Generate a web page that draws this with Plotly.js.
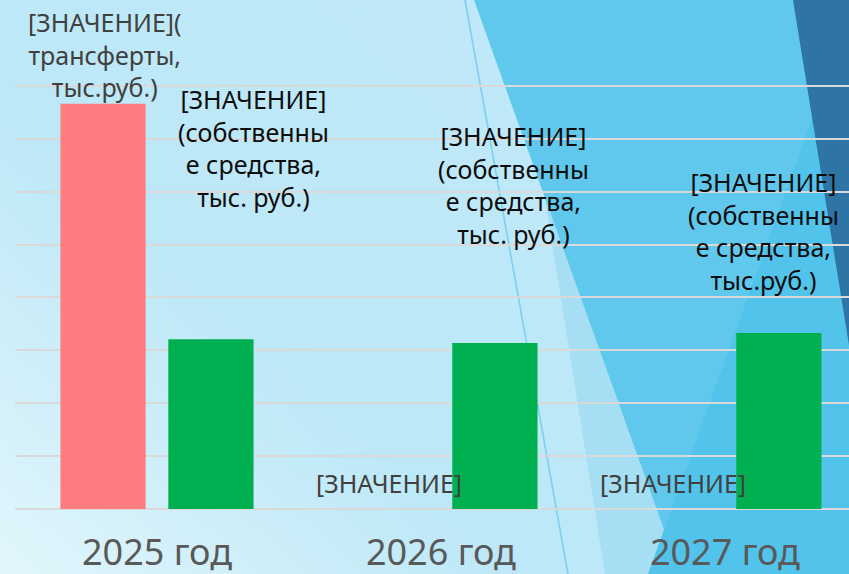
<!DOCTYPE html>
<html>
<head>
<meta charset="utf-8">
<script src="https://cdn.plot.ly/plotly-3.0.1.min.js"></script>
<style>
  html, body { margin: 0; padding: 0; width: 849px; height: 574px; overflow: hidden; }
  #bg { position: absolute; left: 0; top: 0; }
  #chart { position: absolute; left: 0; top: 0; width: 849px; height: 574px; }
</style>
</head>
<body>
<svg id="bg" width="849" height="574" xmlns="http://www.w3.org/2000/svg">
  <defs>
    <linearGradient id="g0" x1="0" y1="574" x2="520" y2="0" gradientUnits="userSpaceOnUse">
      <stop offset="0" stop-color="#e2f6fc"/>
      <stop offset="0.45" stop-color="#bde8f7"/>
      <stop offset="1" stop-color="#bfe9f8"/>
    </linearGradient>
  </defs>
  <rect x="0" y="0" width="849" height="574" fill="url(#g0)"/>
  <polygon points="513,0 605,574 849,574 849,0" fill="#a6dff3"/>
  <line x1="465" y1="0" x2="568" y2="574" stroke="#7ed0ee" stroke-width="1.6"/>
  <polygon points="474,0 680,574 849,574 849,0" fill="#60c8ec"/>
  <polygon points="855,0 648,574 849,574" fill="#52c3ea"/>
  <polygon points="793,0 849,345 849,0" fill="#2e74a5"/>
</svg>
<div id="chart"></div>
<script>
// Data
const categories = ['2025 год', '2026 год', '2027 год'];
const transfers = [38300, 0, 0];          // трансферты, тыс.руб.
const ownFunds  = [16050, 15700, 16650];  // собственные средства, тыс.руб.
const transferLabels = [
  '[ЗНАЧЕНИЕ](<br>трансферты,<br>тыс.руб.)',
  '[ЗНАЧЕНИЕ]',
  '[ЗНАЧЕНИЕ]'
];
const ownLabels = [
  '[ЗНАЧЕНИЕ]<br>(собственны<br>е средства,<br>тыс. руб.)',
  '[ЗНАЧЕНИЕ]<br>(собственны<br>е средства,<br>тыс. руб.)',
  '[ЗНАЧЕНИЕ]<br>(собственны<br>е средства,<br>тыс.руб.)'
];

// Label placement (pixels, relative to data point)
const ownLabelDx = [97, 73, 39];
const ownLabelDy = [259, 226, 170];
const transferLabelDy = [-2, 7, 7];

const FONT = 'Noto Sans, Open Sans, DejaVu Sans, sans-serif';

const traces = [
  { type: 'bar', x: categories, y: transfers, name: 'трансферты',
    marker: { color: '#ff7c80' }, hoverinfo: 'skip' },
  { type: 'bar', x: categories, y: ownFunds, name: 'собственные средства',
    marker: { color: '#00b050' }, hoverinfo: 'skip' }
];

const annotations = [];
categories.forEach((c, i) => {
  annotations.push({
    x: c, y: transfers[i], xref: 'x', yref: 'y',
    xshift: -52, yshift: transferLabelDy[i],
    yanchor: 'bottom', xanchor: 'center', align: 'center',
    text: transferLabels[i], showarrow: false,
    font: { family: FONT, size: 25, color: '#404040' }
  });
  annotations.push({
    x: c, y: ownFunds[i], xref: 'x', yref: 'y',
    xshift: ownLabelDx[i], yshift: ownLabelDy[i],
    yanchor: 'top', xanchor: 'center', align: 'center',
    text: ownLabels[i], showarrow: false,
    font: { family: FONT, size: 25, color: '#0d0d0d' }
  });
});

const layout = {
  width: 849, height: 574,
  margin: { l: 15, r: 0, t: 33, b: 65 },
  paper_bgcolor: 'rgba(0,0,0,0)',
  plot_bgcolor: 'rgba(0,0,0,0)',
  showlegend: false,
  barmode: 'group',
  bargap: 0.24,
  bargroupgap: 0.21,
  font: { family: FONT },
  xaxis: {
    type: 'category',
    range: [-0.5, 2.437],
    showgrid: false, showline: false, zeroline: false,
    ticks: '',
    ticklabelstandoff: 19,
    tickfont: { family: FONT, size: 36, color: '#595959' }
  },
  yaxis: {
    range: [0, 45000],
    dtick: 5000,
    showticklabels: false,
    ticks: '',
    showline: false,
    gridcolor: '#d9d9d9', gridwidth: 2,
    zeroline: true, zerolinecolor: '#d9d9d9', zerolinewidth: 2
  },
  annotations: annotations
};

Plotly.newPlot('chart', traces, layout, { staticPlot: true, displayModeBar: false });
</script>
</body>
</html>
